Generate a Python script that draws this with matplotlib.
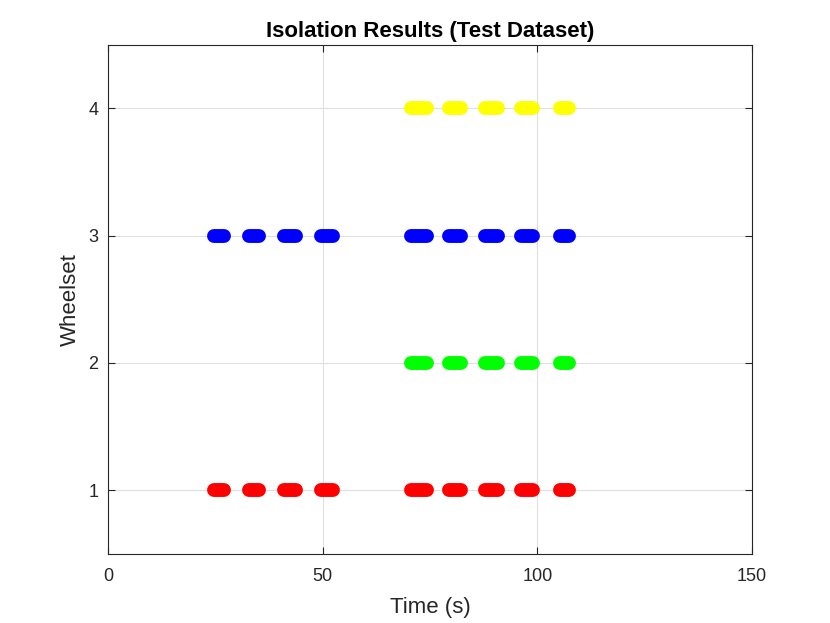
import matplotlib
matplotlib.use("Agg")
import matplotlib.pyplot as plt

plt.rcParams['font.family'] = ['Liberation Sans', 'DejaVu Sans']

# Isolated segments per wheelset: (start, end) in seconds
wheelsets = [1, 2, 3, 4]
colors = ["#ff0000", "#00ff00", "#0000ff", "#ffff00"]
first_group = [(24.6, 27.0), (32.8, 35.2), (41.1, 43.8), (49.7, 52.5)]
second_group = [(70.6, 74.2), (79.4, 82.3), (87.9, 90.8), (96.3, 99.1), (105.2, 107.4)]
segments = {
    1: first_group + second_group,
    2: second_group,
    3: first_group + second_group,
    4: second_group,
}

fig = plt.figure(figsize=(8.3, 6.23), dpi=100)
ax = fig.add_axes([0.130, 0.111, 0.776, 0.817])

for w, c in zip(wheelsets, colors):
    for start, end in segments[w]:
        ax.plot([start, end], [w, w], color=c, linewidth=10,
                solid_capstyle='round', zorder=3)

ax.set_xlim(0, 150)
ax.set_ylim(0.5, 4.5)
ax.set_xticks([0, 50, 100, 150])
ax.set_yticks(wheelsets)
ax.grid(True, color='#dfdfdf', linewidth=0.8)
ax.set_axisbelow(True)
ax.tick_params(direction='in', top=True, right=True, labelsize=13,
               colors='#262626', length=5)
ax.tick_params(axis='x', pad=10)
ax.tick_params(axis='y', pad=7)
for s in ax.spines.values():
    s.set_color('#262626')
    s.set_linewidth(0.8)
ax.set_xlabel("Time (s)", fontsize=16, color='#262626', labelpad=9)
ax.set_ylabel("Wheelset", fontsize=16, color='#262626', labelpad=5)
ax.set_title("Isolation Results (Test Dataset)", fontsize=16, fontweight='bold', pad=6)

fig.savefig("out.png", dpi=100)
